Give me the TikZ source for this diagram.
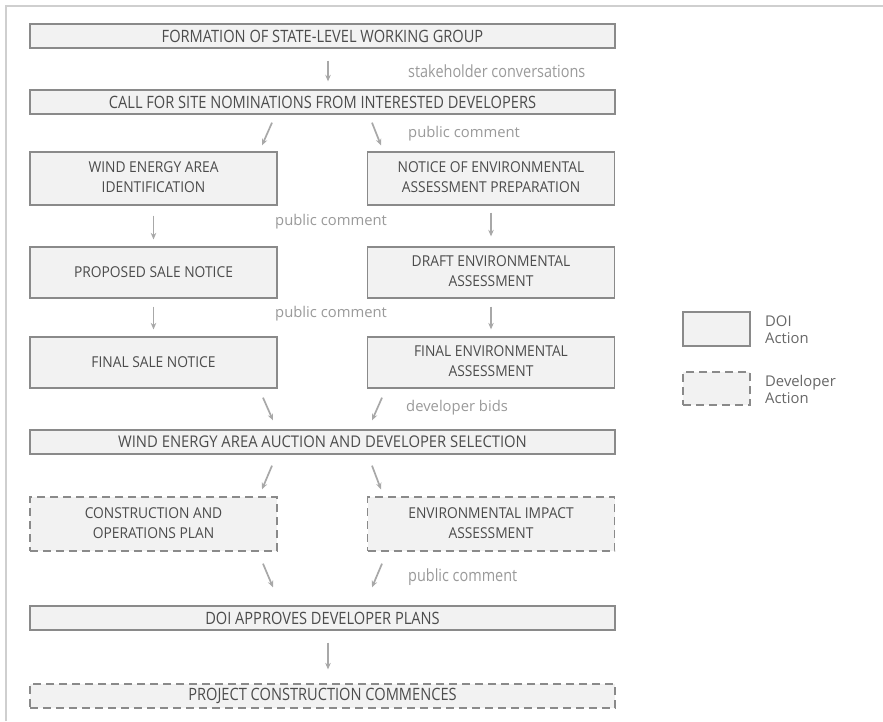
\documentclass[tikz,border=0pt]{standalone}
\usepackage{fontspec}
\setmainfont{Open Sans}
\newfontfamily\condfont[FakeStretch=0.86]{Open Sans}
\newfontfamily\boxfont[FakeStretch=0.92]{Open Sans}
\usetikzlibrary{arrows.meta}
\definecolor{boxfill}{HTML}{F2F2F2}
\definecolor{boxline}{HTML}{8A8A8A}
\definecolor{boxtext}{HTML}{4C4C4C}
\definecolor{arrowc}{HTML}{A8A8A8}
\definecolor{labelc}{HTML}{9A9A9A}
\definecolor{framec}{HTML}{CFCFCF}
\newcommand{\twoline}[2]{\raisebox{-2pt}{\begin{tabular}{@{}c@{}}#1\\#2\end{tabular}}}
\tikzset{
  doibox/.style={draw=boxline, fill=boxfill, line width=1.3pt, text=boxtext, align=center, inner sep=0pt, font=\boxfont\fontsize{15}{20}\selectfont},
  devbox/.style={doibox, dash pattern=on 8pt off 5pt},
  widebox/.style={minimum width=585pt, minimum height=24pt, font=\condfont\fontsize{17}{20}\selectfont},
  halfbox/.style={minimum width=247pt},
  flowarrow/.style={draw=arrowc, line width=1.7pt, -{Stealth[length=6.5pt,width=5.5pt]}},
  flowlabel/.style={text=labelc, anchor=west, inner sep=0pt, font=\fontsize{14.8}{15}\selectfont},
  widelabel/.style={flowlabel, font=\condfont\fontsize{16.8}{15}\selectfont},
  legtext/.style={text=boxtext!85, anchor=west, align=left, inner sep=0pt, font=\fontsize{14.8}{17}\selectfont}
}
\begin{document}
\begin{tikzpicture}[x=1pt,y=1pt]
\useasboundingbox (0,0) rectangle (883,-721);
\fill[white] (0,0) rectangle (883,-721);
\draw[framec, line width=1.2pt] (6,-721) -- (6,-6) -- (883,-6);

\node[doibox, widebox] (b1) at (322.5,-36) {FORMATION OF STATE-LEVEL WORKING GROUP};
\node[doibox, widebox] (b2) at (322.5,-102) {CALL FOR SITE NOMINATIONS FROM INTERESTED DEVELOPERS};
\node[doibox, halfbox, minimum height=53pt] (b3l) at (153.5,-178.5) {\twoline{WIND ENERGY AREA}{IDENTIFICATION}};
\node[doibox, halfbox, minimum height=53pt] (b3r) at (491,-178.5) {\twoline{NOTICE OF ENVIRONMENTAL}{ASSESSMENT PREPARATION}};
\node[doibox, halfbox, minimum height=51pt] (b4l) at (153.5,-272.5) {PROPOSED SALE NOTICE};
\node[doibox, halfbox, minimum height=51pt] (b4r) at (491,-272.5) {\twoline{DRAFT ENVIRONMENTAL}{ASSESSMENT}};
\node[doibox, halfbox, minimum height=51pt] (b5l) at (153.5,-362.5) {FINAL SALE NOTICE};
\node[doibox, halfbox, minimum height=51pt] (b5r) at (491,-362.5) {\twoline{FINAL ENVIRONMENTAL}{ASSESSMENT}};
\node[doibox, minimum width=585pt, minimum height=24pt, font=\boxfont\fontsize{16.1}{20}\selectfont] (b6) at (322.5,-442) {WIND ENERGY AREA AUCTION AND DEVELOPER SELECTION};
\node[devbox, halfbox, minimum height=54pt] (b7l) at (153.5,-524) {\twoline{CONSTRUCTION AND}{OPERATIONS PLAN}};
\node[devbox, halfbox, minimum height=54pt] (b7r) at (491,-524) {\twoline{ENVIRONMENTAL IMPACT}{ASSESSMENT}};
\node[doibox, widebox] (b8) at (322.5,-618) {DOI APPROVES DEVELOPER PLANS};
\node[devbox, widebox] (b9) at (322.5,-696) {PROJECT CONSTRUCTION COMMENCES};

% arrows
\draw[flowarrow] ([xshift=5.5pt,yshift=-12pt]b1.south) -- ([xshift=5.5pt,yshift=8pt]b2.north);
\node[widelabel] (l1) at (408,-71) {stakeholder conversations};

\draw[flowarrow] ([xshift=-50.5pt,yshift=-8pt]b2.south) -- ([xshift=-60.5pt,yshift=6pt]b2.south |- b3l.north);
\draw[flowarrow] ([xshift=49.5pt,yshift=-8pt]b2.south) -- ([xshift=58.5pt,yshift=6pt]b2.south |- b3r.north);
\node[flowlabel] (l2) at (408,-134) {public comment};

\draw[flowarrow] ([yshift=-10pt]b3l.south) -- ([yshift=7pt]b4l.north);
\draw[flowarrow] ([yshift=-7pt]b3r.south) -- ([yshift=10pt]b4r.north);
\node[flowlabel] (l3) at (275,-222) {public comment};

\draw[flowarrow] ([yshift=-8pt]b4l.south) -- ([yshift=7pt]b5l.north);
\draw[flowarrow] ([yshift=-8pt]b4r.south) -- ([yshift=7pt]b5r.north);
\node[flowlabel] (l4) at (275,-314) {public comment};

\draw[flowarrow] ([xshift=-59.5pt,yshift=-9pt]b6.north |- b5l.south) -- ([xshift=-49.5pt,yshift=9pt]b6.north);
\draw[flowarrow] ([xshift=59.5pt,yshift=-9pt]b6.north |- b5r.south) -- ([xshift=49.5pt,yshift=9pt]b6.north);
\node[flowlabel] (l5) at (406,-408) {developer bids};

\draw[flowarrow] ([xshift=-50.5pt,yshift=-11pt]b6.south) -- ([xshift=-60.5pt,yshift=7pt]b6.south |- b7l.north);
\draw[flowarrow] ([xshift=49.5pt,yshift=-11pt]b6.south) -- ([xshift=58.5pt,yshift=7pt]b6.south |- b7r.north);

\draw[flowarrow] ([xshift=-59.5pt,yshift=-12pt]b8.north |- b7l.south) -- ([xshift=-49.5pt,yshift=18pt]b8.north);
\draw[flowarrow] ([xshift=59.5pt,yshift=-12pt]b8.north |- b7r.south) -- ([xshift=49.5pt,yshift=18pt]b8.north);
\node[widelabel] (l6) at (408,-577) {public comment};

\draw[flowarrow] ([xshift=5.5pt,yshift=-12pt]b8.south) -- ([xshift=5.5pt,yshift=14pt]b9.north);

% legend
\node[doibox, minimum width=67pt, minimum height=34pt] (leg1) at (716.5,-329) {};
\node[legtext] (leg1t) at (765,-330) {DOI\\Action};
\node[devbox, minimum width=67pt, minimum height=33pt] (leg2) at (716.5,-388.5) {};
\node[legtext] (leg2t) at (765,-389) {Developer\\Action};
\end{tikzpicture}
\end{document}
